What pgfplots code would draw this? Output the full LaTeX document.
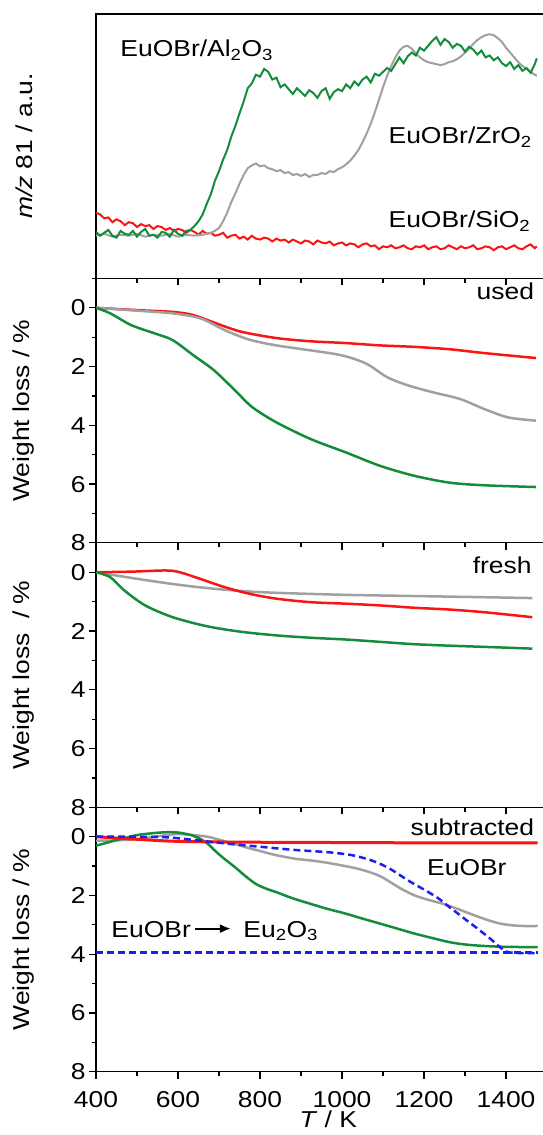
\documentclass[border=0pt]{standalone}
\usepackage{fontspec}
\setmainfont{Liberation Sans}[FakeStretch=1.15]
\usepackage{pgfplots}
\pgfplotsset{compat=1.18}
\usepgfplotslibrary{groupplots}
\usetikzlibrary{arrows.meta}

\definecolor{cgreen}{RGB}{20,140,60}
\definecolor{cgray}{RGB}{160,160,160}
\definecolor{cred}{RGB}{250,20,20}
\definecolor{cblue}{RGB}{30,30,240}
\newcommand{\fs}{\fontsize{23}{27}\selectfont}

\pgfplotsset{
  tg/.style={ymin=-1, ymax=8, y dir=reverse, ytick={0,2,...,8}, minor ytick={-1,1,3,5,7}},
  cv/.style={line width=2.5pt, smooth},
}

\begin{document}
\begin{tikzpicture}
\begin{groupplot}[
  group style={group size=1 by 4, vertical sep=0pt, xticklabels at=edge bottom},
  width=451pt, height=264.4pt, scale only axis,
  xmin=400, xmax=1500, xtick={400,600,...,1400}, minor xtick={500,700,...,1500},
  tick align=outside, xtick pos=bottom, ytick pos=left,
  major tick length=7pt, minor tick length=4.5pt,
  axis line style={line width=1.2pt},
  every tick/.append style={black, line width=1.2pt},
  tick label style={font=\fs}, label style={font=\fs},
  xticklabel style={yshift=-9pt},
  /pgf/number format/assume math mode=true,
  /pgf/number format/set thousands separator={},
  y label style={at={(axis description cs:0,0.5)}, anchor=center, yshift=72pt},
]

% m/z 81 signal
\nextgroupplot[ymin=-10.3, ymax=264, ytick=\empty, ylabel={\textit{m/z} 81 / a.u.}]
\coordinate (tl) at (rel axis cs:0,1);
\addplot[cred, line width=2pt] coordinates {
(400,58) (410,56) (420,52) (430,53) (440,48) (450,51) (460,49) (470,45) (480,48) (490,47)
(500,43) (510,46) (520,44) (530,45) (540,41) (550,44) (560,43) (570,40) (580,42) (590,39)
(600,41) (610,40) (620,37) (630,40) (640,38) (650,35) (660,39) (670,36) (680,37) (690,34)
(700,35) (710,37) (720,32) (730,34) (740,35) (750,31) (760,33) (770,30) (780,34) (790,31)
(800,30) (810,32) (820,31) (830,28) (840,31) (850,29) (860,30) (870,27) (880,30) (890,28)
(900,26) (910,29) (920,28) (930,25) (940,29) (950,27) (960,26) (970,28) (980,24) (990,26)
(1000,27) (1010,24) (1020,26) (1030,25) (1040,22) (1050,25) (1060,26) (1070,23) (1080,24) (1090,20)
(1100,23) (1110,22) (1120,24) (1130,21) (1140,22) (1150,24) (1160,21) (1170,20) (1180,23) (1190,22)
(1200,24) (1210,20) (1220,22) (1230,23) (1240,20) (1250,21) (1260,24) (1270,22) (1280,20) (1290,23)
(1300,21) (1310,22) (1320,24) (1330,20) (1340,21) (1350,23) (1360,22) (1370,19) (1380,22) (1390,23)
(1400,20) (1410,22) (1420,24) (1430,21) (1440,20) (1450,23) (1460,25) (1470,21) (1475,23)};
\addplot[cgray, line width=2pt] coordinates {
(400,34) (420,36) (440,33) (460,35) (480,34) (500,36) (520,33) (540,35) (560,34) (580,36)
(600,33) (620,35) (640,34) (660,35) (670,36) (680,37) (690,39) (700,42) (710,49) (720,58)
(730,69) (740,78) (750,88) (760,97) (770,104) (780,107) (790,109) (800,106) (810,107) (820,104)
(830,103) (840,101) (850,102) (860,99) (870,100) (880,97) (890,98) (900,96) (910,98) (920,95)
(930,97) (940,97) (950,99) (960,98) (970,101) (980,100) (990,103) (1000,105) (1010,108) (1020,112)
(1030,117) (1040,123) (1050,131) (1060,140) (1070,150) (1080,162) (1090,175) (1100,188) (1110,200) (1120,210)
(1130,219) (1140,226) (1150,230) (1160,231) (1170,228) (1180,223) (1190,219) (1200,216) (1210,214) (1220,213)
(1230,212) (1240,211) (1250,212) (1260,214) (1270,215) (1280,217) (1290,220) (1300,224) (1310,228) (1320,233)
(1330,237) (1340,240) (1350,242) (1360,243) (1370,242) (1380,239) (1390,235) (1400,229) (1410,224) (1420,219)
(1430,214) (1440,210) (1450,207) (1460,204) (1470,201) (1475,200)};
\addplot[cgreen, line width=2pt] coordinates {
(400,38) (410,34) (420,37) (430,40) (440,34) (450,32) (460,39) (470,36) (480,35) (490,39)
(500,33) (510,38) (520,41) (530,34) (540,35) (550,32) (560,38) (570,37) (580,33) (590,40)
(600,36) (610,34) (620,39) (630,40) (640,44) (650,49) (660,56) (670,67) (680,77) (690,91)
(700,101) (710,113) (720,123) (730,137) (740,148) (750,161) (760,173) (770,187) (780,192) (790,201)
(800,199) (810,207) (820,204) (830,196) (840,198) (850,188) (860,191) (870,186) (880,181) (890,187)
(900,183) (910,179) (920,185) (930,182) (940,177) (950,184) (960,187) (970,176) (980,183) (990,186)
(1000,184) (1010,191) (1020,187) (1030,194) (1040,190) (1050,196) (1060,199) (1070,193) (1080,202) (1090,200)
(1100,204) (1110,208) (1120,205) (1130,212) (1140,219) (1150,213) (1160,220) (1170,224) (1180,221) (1190,229)
(1200,226) (1210,231) (1220,236) (1230,240) (1240,232) (1250,238) (1260,235) (1270,229) (1280,233) (1290,231)
(1300,225) (1310,230) (1320,227) (1330,222) (1340,226) (1350,219) (1360,221) (1370,216) (1380,219) (1390,213)
(1400,210) (1410,214) (1420,207) (1430,211) (1440,205) (1450,208) (1460,203) (1470,212) (1475,218)};
\node[anchor=base west, font=\fs] at (axis cs:451,219.5) {EuOBr/Al\textsubscript{2}O\textsubscript{3}};
\node[anchor=base west, font=\fs] at (axis cs:1105,129.8) {EuOBr/ZrO\textsubscript{2}};
\node[anchor=base west, font=\fs] at (axis cs:1105,42.2) {EuOBr/SiO\textsubscript{2}};

% used
\nextgroupplot[tg, ylabel={Weight loss / \%}]
\addplot[cred, cv] coordinates {(400,0) (503,0.08) (587,0.14) (638,0.25) (705,0.59) (756,0.82) (840,1.03) (924,1.14) (1009,1.2) (1093,1.28) (1177,1.33) (1262,1.41) (1346,1.54) (1473,1.71)};
\addplot[cgray, cv] coordinates {(400,0) (503,0.1) (587,0.19) (655,0.36) (714,0.76) (773,1.08) (840,1.28) (924,1.45) (1000,1.62) (1059,1.9) (1110,2.36) (1161,2.64) (1220,2.87) (1287,3.1) (1346,3.44) (1405,3.73) (1473,3.84)};
\addplot[cgreen, cv] coordinates {(400,0) (435,0.19) (486,0.59) (545,0.88) (587,1.1) (638,1.62) (688,2.13) (739,2.81) (781,3.38) (840,3.9) (924,4.47) (1009,4.92) (1093,5.38) (1177,5.72) (1262,5.95) (1346,6.04) (1473,6.1)};
\node[anchor=base east, font=\fs] at (axis cs:1477,-0.28) {used};

% fresh
\nextgroupplot[tg, ylabel={Weight loss~ / \%}]
\addplot[cgray, cv] coordinates {(400,0) (503,0.23) (587,0.4) (671,0.54) (756,0.64) (840,0.7) (1009,0.77) (1177,0.81) (1346,0.85) (1464,0.88)};
\addplot[cred, cv] coordinates {(400,0) (486,-0.02) (570,-0.06) (604,0) (655,0.23) (714,0.51) (773,0.73) (840,0.9) (924,1.02) (1009,1.07) (1093,1.13) (1177,1.21) (1262,1.27) (1346,1.36) (1464,1.53)};
\addplot[cgreen, cv] coordinates {(400,0) (435,0.17) (469,0.62) (520,1.13) (587,1.53) (671,1.84) (756,2.03) (840,2.15) (924,2.23) (1009,2.29) (1093,2.37) (1177,2.45) (1262,2.5) (1346,2.54) (1464,2.6)};
\node[anchor=base east, font=\fs] at (axis cs:1471,0.03) {fresh};

% subtracted
\nextgroupplot[tg, ylabel={Weight loss / \%}, xlabel={\textit{T} / K},
  x label style={at={(axis description cs:0.515,0)}, anchor=north, yshift=-36pt}]
\coordinate (bl) at (rel axis cs:0,0);
\addplot[cgray, cv] coordinates {(400,0.14) (440,0.13) (486,0.1) (520,0.05) (545,0) (575,-0.06) (604,-0.09) (640,-0.05) (671,0) (705,0.12) (739,0.25) (770,0.38) (798,0.48) (830,0.6) (857,0.68) (890,0.76) (924,0.81) (960,0.88) (1000,0.98) (1035,1.08) (1068,1.21) (1095,1.36) (1118,1.55) (1145,1.78) (1177,2.0) (1210,2.15) (1245,2.28) (1280,2.45) (1312,2.62) (1345,2.79) (1380,2.94) (1410,3.01) (1440,3.04) (1477,3.04)};
\addplot[cgreen, cv] coordinates {(400,0.31) (444,0.14) (475,0.03) (503,-0.06) (540,-0.12) (570,-0.15) (600,-0.14) (630,-0.06) (655,0.08) (675,0.27) (688,0.45) (710,0.72) (739,1.04) (765,1.35) (790,1.61) (815,1.77) (840,1.89) (880,2.1) (924,2.29) (965,2.46) (1009,2.62) (1050,2.79) (1093,2.96) (1135,3.13) (1177,3.3) (1220,3.45) (1262,3.59) (1300,3.67) (1346,3.72) (1400,3.75) (1477,3.76)};
\addplot[cred, line width=3pt, smooth] coordinates {(400,0) (450,0.05) (500,0.09) (550,0.13) (600,0.16) (700,0.18) (800,0.19) (1000,0.2) (1200,0.21) (1477,0.21)};
\addplot[cblue, line width=2.5pt, dash pattern=on 7pt off 4pt, smooth] coordinates {(400,0) (480,0) (570,0.02) (638,0.11) (714,0.23) (798,0.34) (882,0.45) (967,0.53) (1020,0.62) (1051,0.72) (1080,0.85) (1110,1.04) (1135,1.25) (1161,1.49) (1186,1.69) (1211,1.89) (1237,2.12) (1262,2.4) (1283,2.62) (1304,2.85) (1325,3.07) (1346,3.3) (1363,3.49) (1380,3.7) (1393,3.85) (1405,3.93) (1430,3.96) (1477,3.96)};
\addplot[cblue, line width=2.5pt, dash pattern=on 7pt off 4pt] coordinates {(400,3.95) (1477,3.95)};
\node[anchor=base east, font=\fs] at (axis cs:1477,-0.03) {subtracted};
\node[anchor=base west, font=\fs] at (axis cs:1199,1.32) {EuOBr};
\node[anchor=base west, font=\fs] at (axis cs:429,3.42) {EuOBr};
\node[anchor=base west, font=\fs] at (axis cs:751,3.42) {Eu\textsubscript{2}O\textsubscript{3}};
\draw[-{Latex[length=11pt,width=9pt]}, line width=2pt] (axis cs:641,3.13) -- (axis cs:729,3.13);
\end{groupplot}
\pgfresetboundingbox
\path ([xshift=-96pt,yshift=14pt]tl) rectangle ([xshift=446pt,yshift=-63.3pt]bl);
\end{tikzpicture}
\end{document}
